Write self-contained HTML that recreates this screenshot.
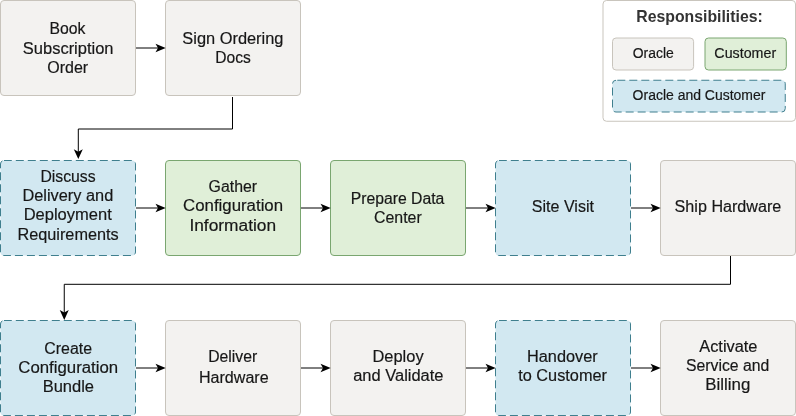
<!DOCTYPE html>
<html lang="en">
<head>
<meta charset="utf-8">
<title>Responsibilities</title>
<style>
html,body{margin:0;padding:0;background:#fff;}
body{width:796px;height:416px;overflow:hidden;}
svg{display:block;will-change:transform;}
text{font-family:"Liberation Sans",sans-serif;fill:#171717;stroke:#171717;stroke-width:0.18;}
</style>
</head>
<body>
<svg width="796" height="416" viewBox="0 0 796 416">
<rect width="796" height="416" fill="#ffffff"/>
<rect x="0.5" y="0.5" width="135" height="95" rx="3.5" ry="3.5" fill="#f3f2f0" stroke="#c8c4bc" stroke-width="1"/>
<rect x="165.5" y="0.5" width="135" height="95" rx="3.5" ry="3.5" fill="#f3f2f0" stroke="#c8c4bc" stroke-width="1"/>
<rect x="0.5" y="160.5" width="135" height="95" rx="3.5" ry="3.5" fill="#d2e8f1" stroke="#3f7f8e" stroke-width="1" stroke-dasharray="8 4" stroke-dashoffset="0.2"/>
<rect x="165.5" y="160.5" width="135" height="95" rx="3.5" ry="3.5" fill="#e0efd8" stroke="#7aa670" stroke-width="1"/>
<rect x="330.5" y="160.5" width="135" height="95" rx="3.5" ry="3.5" fill="#e0efd8" stroke="#7aa670" stroke-width="1"/>
<rect x="495.5" y="160.5" width="135" height="95" rx="3.5" ry="3.5" fill="#d2e8f1" stroke="#3f7f8e" stroke-width="1" stroke-dasharray="8 4" stroke-dashoffset="0.2"/>
<rect x="660.5" y="160.5" width="135" height="95" rx="3.5" ry="3.5" fill="#f3f2f0" stroke="#c8c4bc" stroke-width="1"/>
<rect x="0.5" y="320.5" width="135" height="95" rx="3.5" ry="3.5" fill="#d2e8f1" stroke="#3f7f8e" stroke-width="1" stroke-dasharray="8 4" stroke-dashoffset="0.2"/>
<rect x="165.5" y="320.5" width="135" height="95" rx="3.5" ry="3.5" fill="#f3f2f0" stroke="#c8c4bc" stroke-width="1"/>
<rect x="330.5" y="320.5" width="135" height="95" rx="3.5" ry="3.5" fill="#f3f2f0" stroke="#c8c4bc" stroke-width="1"/>
<rect x="495.5" y="320.5" width="135" height="95" rx="3.5" ry="3.5" fill="#d2e8f1" stroke="#3f7f8e" stroke-width="1" stroke-dasharray="8 4" stroke-dashoffset="0.2"/>
<rect x="660.5" y="320.5" width="135" height="95" rx="3.5" ry="3.5" fill="#f3f2f0" stroke="#c8c4bc" stroke-width="1"/>
<line x1="136" y1="48.0" x2="161.70" y2="48.0" stroke="#000" stroke-width="1"/><path d="M165.70 48.0 L155.50 43.7 L158.00 48.0 L155.50 52.3 Z" fill="#000"/>
<line x1="136.0" y1="208.0" x2="161.70" y2="208.0" stroke="#000" stroke-width="1"/><path d="M165.70 208.0 L155.50 203.7 L158.00 208.0 L155.50 212.3 Z" fill="#000"/>
<line x1="136.0" y1="368.0" x2="161.70" y2="368.0" stroke="#000" stroke-width="1"/><path d="M165.70 368.0 L155.50 363.7 L158.00 368.0 L155.50 372.3 Z" fill="#000"/>
<line x1="301.0" y1="208.0" x2="326.70" y2="208.0" stroke="#000" stroke-width="1"/><path d="M330.70 208.0 L320.50 203.7 L323.00 208.0 L320.50 212.3 Z" fill="#000"/>
<line x1="301.0" y1="368.0" x2="326.70" y2="368.0" stroke="#000" stroke-width="1"/><path d="M330.70 368.0 L320.50 363.7 L323.00 368.0 L320.50 372.3 Z" fill="#000"/>
<line x1="466.0" y1="208.0" x2="491.70" y2="208.0" stroke="#000" stroke-width="1"/><path d="M495.70 208.0 L485.50 203.7 L488.00 208.0 L485.50 212.3 Z" fill="#000"/>
<line x1="466.0" y1="368.0" x2="491.70" y2="368.0" stroke="#000" stroke-width="1"/><path d="M495.70 368.0 L485.50 363.7 L488.00 368.0 L485.50 372.3 Z" fill="#000"/>
<line x1="631.0" y1="208.0" x2="656.70" y2="208.0" stroke="#000" stroke-width="1"/><path d="M660.70 208.0 L650.50 203.7 L653.00 208.0 L650.50 212.3 Z" fill="#000"/>
<line x1="631.0" y1="368.0" x2="656.70" y2="368.0" stroke="#000" stroke-width="1"/><path d="M660.70 368.0 L650.50 363.7 L653.00 368.0 L650.50 372.3 Z" fill="#000"/>
<path d="M232.5 97 V129 H78.3 V154" fill="none" stroke="#000" stroke-width="1"/>
<path d="M78.3 159.0 L73.8 149.3 L78.3 151.70000000000002 L82.8 149.3 Z" fill="#000"/>
<path d="M730.5 256 V284.3 H64.25 V315" fill="none" stroke="#000" stroke-width="1"/>
<path d="M64.25 320.1 L59.75 310.1 L64.25 312.5 L68.75 310.1 Z" fill="#000"/>
<rect x="603" y="0.5" width="192.5" height="120.75" rx="3.5" ry="3.5" fill="#ffffff" stroke="#c9c5bd" stroke-width="1"/>
<rect x="612.5" y="38" width="81.1" height="32" rx="3.5" ry="3.5" fill="#f3f2f0" stroke="#c8c4bc" stroke-width="1"/>
<rect x="705" y="38" width="81.3" height="32" rx="3.5" ry="3.5" fill="#e0efd8" stroke="#7aa670" stroke-width="1"/>
<rect x="612.5" y="80.25" width="172.75" height="31.75" rx="3.5" ry="3.5" fill="#d2e8f1" stroke="#3f7f8e" stroke-width="1" stroke-dasharray="8 4" stroke-dashoffset="-1.3"/>
<text x="49.59" y="34.40" textLength="35.90" lengthAdjust="spacingAndGlyphs" font-size="16">Book</text>
<text x="22.83" y="53.80" textLength="90.69" lengthAdjust="spacingAndGlyphs" font-size="16">Subscription</text>
<text x="47.30" y="73.10" textLength="40.89" lengthAdjust="spacingAndGlyphs" font-size="16">Order</text>
<text x="182.31" y="43.75" textLength="101.17" lengthAdjust="spacingAndGlyphs" font-size="16">Sign Ordering</text>
<text x="215.21" y="63.30" textLength="35.53" lengthAdjust="spacingAndGlyphs" font-size="16">Docs</text>
<text x="40.40" y="182.30" textLength="55.22" lengthAdjust="spacingAndGlyphs" font-size="16">Discuss</text>
<text x="22.47" y="201.30" textLength="90.75" lengthAdjust="spacingAndGlyphs" font-size="16">Delivery and</text>
<text x="23.65" y="220.40" textLength="88.12" lengthAdjust="spacingAndGlyphs" font-size="16">Deployment</text>
<text x="17.47" y="239.60" textLength="101.20" lengthAdjust="spacingAndGlyphs" font-size="16">Requirements</text>
<text x="208.61" y="192.10" textLength="48.47" lengthAdjust="spacingAndGlyphs" font-size="16">Gather</text>
<text x="183.08" y="211.20" textLength="99.98" lengthAdjust="spacingAndGlyphs" font-size="16">Configuration</text>
<text x="189.42" y="230.80" textLength="86.70" lengthAdjust="spacingAndGlyphs" font-size="16">Information</text>
<text x="350.67" y="203.75" textLength="93.70" lengthAdjust="spacingAndGlyphs" font-size="16">Prepare Data</text>
<text x="373.97" y="223.20" textLength="47.73" lengthAdjust="spacingAndGlyphs" font-size="16">Center</text>
<text x="531.84" y="211.80" textLength="62.08" lengthAdjust="spacingAndGlyphs" font-size="16">Site Visit</text>
<text x="674.61" y="211.80" textLength="106.69" lengthAdjust="spacingAndGlyphs" font-size="16">Ship Hardware</text>
<text x="44.32" y="354.00" textLength="47.70" lengthAdjust="spacingAndGlyphs" font-size="16">Create</text>
<text x="18.29" y="373.10" textLength="99.92" lengthAdjust="spacingAndGlyphs" font-size="16">Configuration</text>
<text x="42.66" y="392.40" textLength="51.34" lengthAdjust="spacingAndGlyphs" font-size="16">Bundle</text>
<text x="208.20" y="361.75" textLength="48.98" lengthAdjust="spacingAndGlyphs" font-size="16">Deliver</text>
<text x="198.96" y="383.10" textLength="69.72" lengthAdjust="spacingAndGlyphs" font-size="16">Hardware</text>
<text x="372.51" y="361.75" textLength="51.09" lengthAdjust="spacingAndGlyphs" font-size="16">Deploy</text>
<text x="353.19" y="380.70" textLength="90.30" lengthAdjust="spacingAndGlyphs" font-size="16">and Validate</text>
<text x="527.02" y="361.50" textLength="70.64" lengthAdjust="spacingAndGlyphs" font-size="16">Handover</text>
<text x="518.25" y="380.70" textLength="88.68" lengthAdjust="spacingAndGlyphs" font-size="16">to Customer</text>
<text x="699.27" y="351.90" textLength="58.19" lengthAdjust="spacingAndGlyphs" font-size="16">Activate</text>
<text x="686.08" y="370.75" textLength="83.24" lengthAdjust="spacingAndGlyphs" font-size="16">Service and</text>
<text x="705.35" y="390.40" textLength="44.97" lengthAdjust="spacingAndGlyphs" font-size="16">Billing</text>
<text x="636.31" y="21.60" textLength="126.45" lengthAdjust="spacingAndGlyphs" font-size="16.1" font-weight="bold" style="stroke:none;fill:#333">Responsibilities:</text>
<text x="632.75" y="58.00" textLength="41.02" lengthAdjust="spacingAndGlyphs" font-size="14">Oracle</text>
<text x="714.39" y="57.80" textLength="61.77" lengthAdjust="spacingAndGlyphs" font-size="14">Customer</text>
<text x="632.62" y="100.25" textLength="132.76" lengthAdjust="spacingAndGlyphs" font-size="14">Oracle and Customer</text>
</svg>
</body>
</html>
